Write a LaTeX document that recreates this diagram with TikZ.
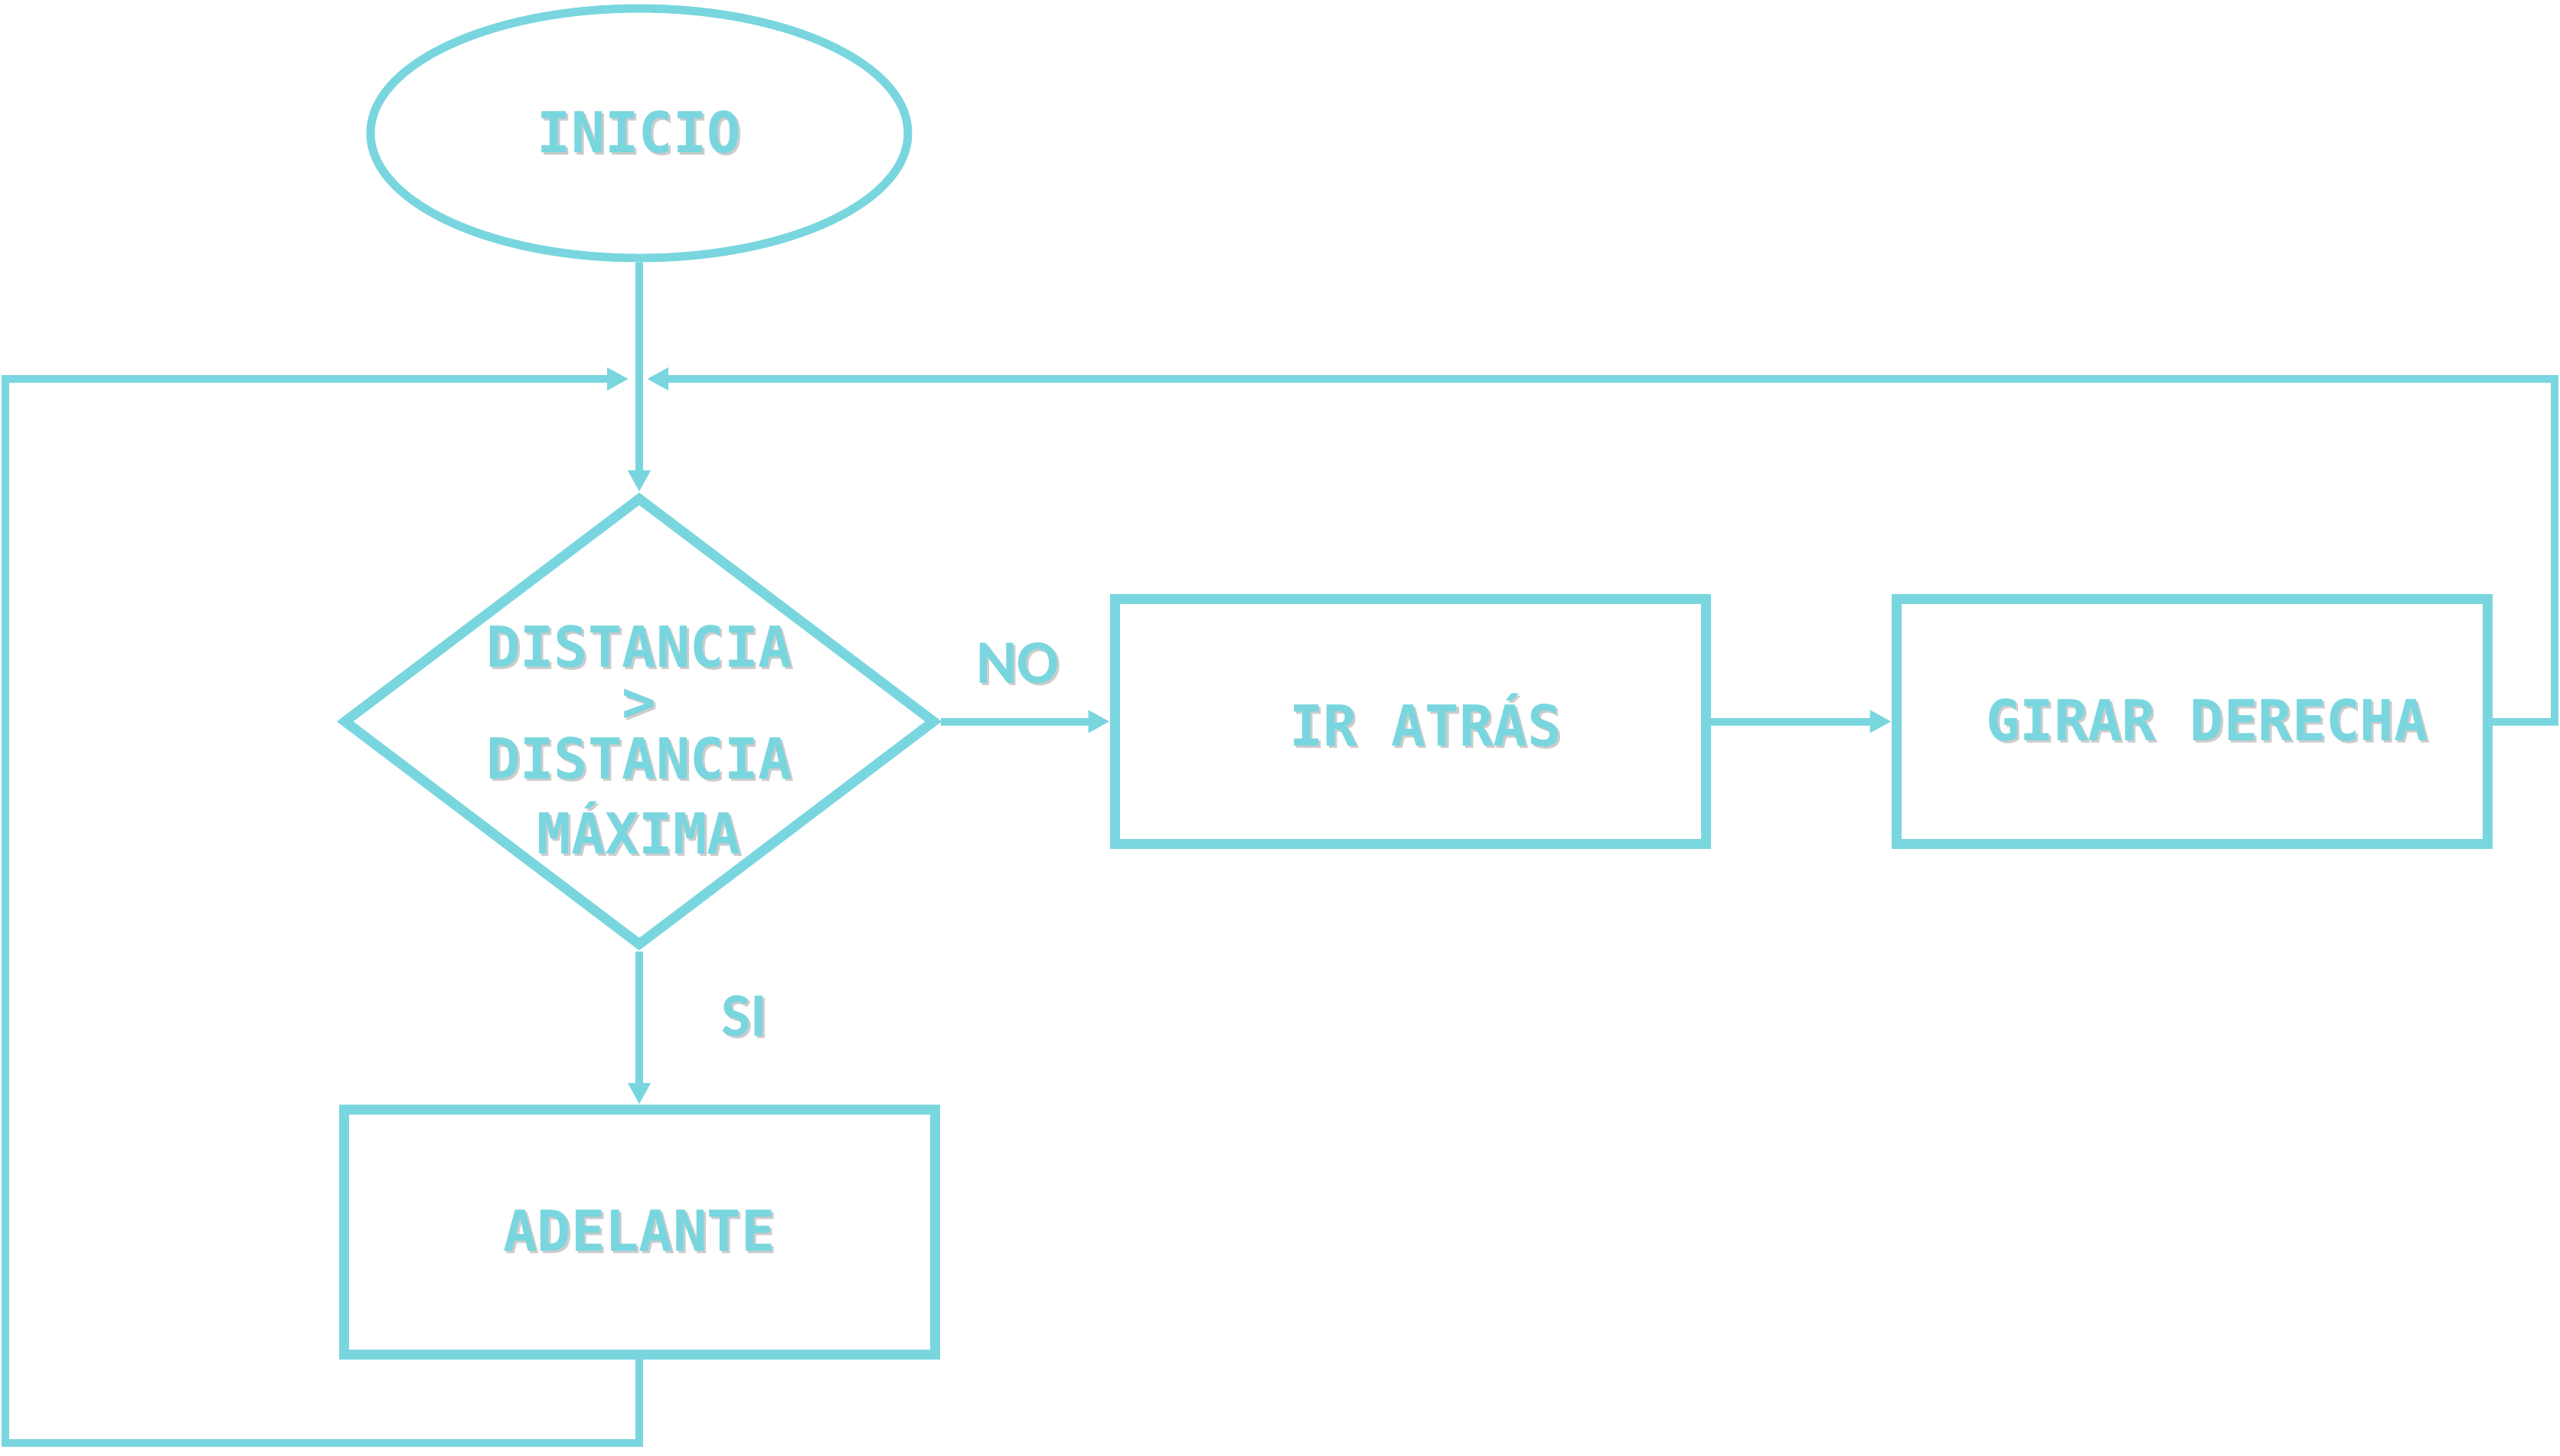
\documentclass[tikz,border=0pt]{standalone}
\usepackage{fontspec}
\setmonofont{DejaVu Sans Mono}
\newfontfamily\lblfont{Carlito}
\usepackage{tikz}
\usetikzlibrary{arrows.meta,positioning,shapes.geometric}
\definecolor{flow}{HTML}{79D6DF}
\definecolor{shade}{gray}{0.8}
\newcommand{\shd}[1]{\makebox[0pt][l]{\hspace{0.03cm}\raisebox{-0.03cm}{\textcolor{shade}{#1}}}#1}

\begin{document}
\begin{tikzpicture}[
  node distance=2cm,
  font=\ttfamily\bfseries\fontsize{21}{25}\selectfont,
  txt/.style={text=flow, inner sep=0pt, align=center},
  lbl/.style={text=flow, inner sep=0pt, font=\lblfont\bfseries\fontsize{23}{27}\selectfont},
  terminal/.style={draw=flow, ellipse, line width=0.11cm, minimum width=7.02cm, minimum height=3.26cm, inner sep=0pt, text=flow},
  decision/.style={draw=flow, diamond, line width=0.13cm, minimum width=7.74cm, minimum height=5.87cm, inner sep=0pt},
  box/.style={draw=flow, line width=0.13cm, minimum width=7.72cm, minimum height=3.2cm, text=flow},
  arr/.style={-{Triangle[length=0.28cm, width=0.28cm]}, draw=flow, line width=0.1cm}
]
  \useasboundingbox (0,0) rectangle (33.44,-19.01);

  \node[terminal] (inicio) at (8.35,-1.74) {\shd{INICIO}};
  \node[decision, below=3.0cm of inicio] (cond) {};
  \node[txt, anchor=north, yshift=1.27cm] (condtxt) at (cond.center)
    {\shd{DISTANCIA}\\[-0.16cm] \shd{>}\\[-0.13cm] \shd{DISTANCIA}\\[0.1cm] \shd{MÁXIMA}};
  \node[box, below=2.0cm of cond] (adelante) {\shd{ADELANTE}};
  \node[box, right=2.21cm of cond] (ir) {\hspace{0.4cm}\shd{IR ATRÁS}};
  \node[box, right=2.36cm of ir] (girar) {\hspace{0.4cm}\shd{GIRAR DERECHA}};

  \node[lbl] (no) at (13.29,-8.68) {\shd{NO}};
  \node[lbl] (si) at (9.72,-13.29) {\shd{SI}};

  % loop ends
  \coordinate (jl) at (8.21,-4.95);
  \coordinate (jr) at (8.45,-4.95);
  \coordinate (lc) at (0.07,-18.85);
  \coordinate (rc) at (33.37,-4.95);

  \draw[arr] (inicio) -- (cond);
  \draw[arr] (cond) -- (adelante);
  \draw[arr] (cond) -- (ir);
  \draw[arr] (ir) -- (girar);
  \draw[arr] (adelante.south) |- (lc) |- (jl);
  \draw[arr] (girar.east) -| (rc) -- (jr);
\end{tikzpicture}
\end{document}
